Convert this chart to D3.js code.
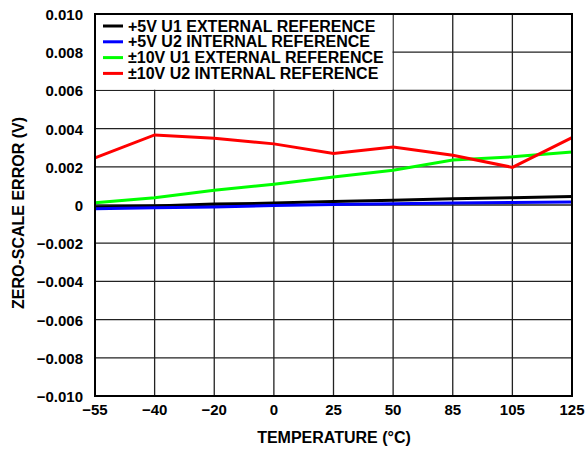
<!DOCTYPE html>
<html><head><meta charset="utf-8">
<script src="https://cdn.jsdelivr.net/npm/d3@7"></script>
<style>body{margin:0;background:#fff}text{font-family:"Liberation Sans",Arial,sans-serif;font-weight:bold}</style>
</head><body><svg id="c" width="587" height="449"></svg>
<script>
const temps = ["−55","−40","−20","0","25","50","85","105","125"];
const yTicks = [0.010,0.008,0.006,0.004,0.002,0,-0.002,-0.004,-0.006,-0.008,-0.010];
const s5vU1Ext = [-0.0001,-0.00005,0.00005,0.0001,0.00018,0.00025,0.00033,0.00038,0.00045];
const s5vU2Int = [-0.0002,-0.00015,-0.0001,-0.00003,0.00002,0.00006,0.0001,0.00013,0.00016];
const s10vU1Ext = [0.00012,0.00038,0.00077,0.00109,0.00147,0.00182,0.00235,0.00252,0.00278];
const s10vU2Int = [0.00247,0.00367,0.0035,0.0032,0.0027,0.00304,0.0026,0.00197,0.00353];
const seriesNames = ["+5V U1 EXTERNAL REFERENCE","+5V U2 INTERNAL REFERENCE","±10V U1 EXTERNAL REFERENCE","±10V U2 INTERNAL REFERENCE"];
const colors = ["#000000","#0000ff","#00ff00","#ff0000"];
const series = [s5vU1Ext,s5vU2Int,s10vU1Ext,s10vU2Int];

const svg = d3.select("#c");
const L=95,R=572,T=14,B=396;
const x = d3.scalePoint().domain(temps).range([L,R]);
const y = d3.scaleLinear().domain([-0.010,0.010]).range([B,T]);
const fmt = v => v===0 ? "0" : (v<0?"−":"") + Math.abs(v).toFixed(3);

// grid
const g = svg.append("g");
g.selectAll(".hg").data(yTicks.slice(1,-1)).enter().append("line")
 .attr("x1",L).attr("x2",R).attr("y1",d=>y(d)).attr("y2",d=>y(d)).attr("stroke","#222").attr("stroke-width",1.3);
g.selectAll(".vg").data(temps.slice(1,-1)).enter().append("line")
 .attr("x1",d=>x(d)).attr("x2",d=>x(d)).attr("y1",T).attr("y2",B).attr("stroke","#222").attr("stroke-width",1.3);

// legend background box
svg.append("rect").attr("x",L).attr("y",T).attr("width",x("50")-L-0.7).attr("height",y(0.006)-T-0.7).attr("fill","#fff");

// lines
const line = d3.line().x((d,i)=>x(temps[i])).y(d=>y(d));
[2,3,0,1].forEach(k=>{
  svg.append("path").attr("d",line(series[k])).attr("fill","none").attr("stroke",colors[k]).attr("stroke-width",3).attr("stroke-linejoin","miter");
});

// frame
svg.append("rect").attr("x",L).attr("y",T).attr("width",R-L).attr("height",B-T).attr("fill","none").attr("stroke","#000").attr("stroke-width",2);

// y labels
svg.selectAll(".yl").data(yTicks).enter().append("text")
 .attr("x",83).attr("y",d=>y(d)+6).attr("text-anchor","end").attr("font-size",15).text(fmt);
// x labels
svg.selectAll(".xl").data(temps).enter().append("text")
 .attr("x",d=>x(d)).attr("y",415).attr("text-anchor","middle").attr("font-size",15).text(d=>d);

svg.append("text").attr("x",334).attr("y",443).attr("text-anchor","middle").attr("font-size",16).text("TEMPERATURE (°C)");
svg.append("text").attr("transform","translate(23.5,213) rotate(-90)").attr("text-anchor","middle").attr("font-size",16).text("ZERO-SCALE ERROR (V)");

// legend
const lg = svg.append("g");
seriesNames.forEach((n,i)=>{
  const yy = 26 + i*15.8;
  lg.append("line").attr("x1",103).attr("x2",123).attr("y1",yy).attr("y2",yy).attr("stroke",colors[i]).attr("stroke-width",3);
  lg.append("text").attr("x",128).attr("y",yy+5.5).attr("font-size",16).text(n);
});
</script></body></html>
